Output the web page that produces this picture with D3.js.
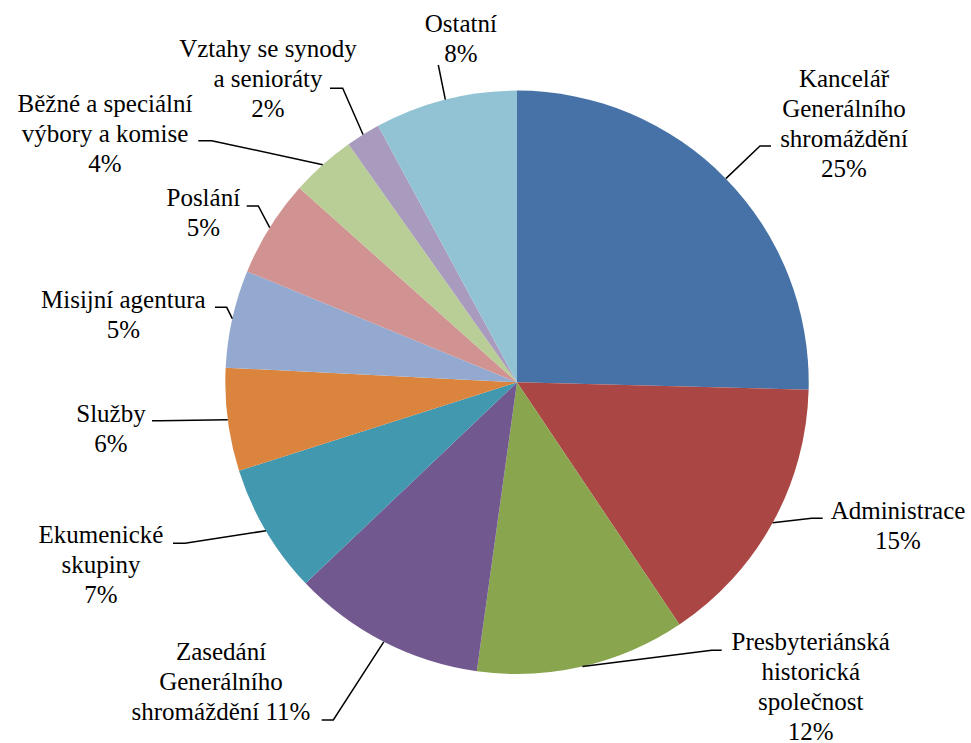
<!DOCTYPE html>
<html>
<head>
<meta charset="utf-8">
<script src="https://d3js.org/d3.v7.min.js"></script>
</head>
<body style="margin:0">
<svg id="chart" width="971" height="743"></svg>
<script>
// data (clockwise from 12 o'clock)
const categories = ["Kancelář Generálního shromáždění", "Administrace", "Presbyteriánská historická společnost",
  "Zasedání Generálního shromáždění", "Ekumenické skupiny", "Služby", "Misijní agentura", "Poslání",
  "Běžné a speciální výbory a komise", "Vztahy se synody a senioráty", "Ostatní"];
const values = [25.4, 15.2, 11.6, 10.7, 7.2, 5.7, 5.4, 5.4, 3.6, 1.9, 7.9];
// how each category name wraps in its label
const labelLines = [
  ["Kancelář", "Generálního", "shromáždění"],
  ["Administrace"],
  ["Presbyteriánská", "historická", "společnost"],
  ["Zasedání", "Generálního", "shromáždění"],
  ["Ekumenické", "skupiny"],
  ["Služby"],
  ["Misijní agentura"],
  ["Poslání"],
  ["Běžné a speciální", "výbory a komise"],
  ["Vztahy se synody", "a senioráty"],
  ["Ostatní"]
];
// percent joined onto the last name line instead of its own line
const pctInline = [false, false, false, true, false, false, false, false, false, false, false];

const colors = ["#4672A8", "#AA4744", "#89A54E", "#71588F", "#4198AF", "#DB843D",
  "#93A9CF", "#D19392", "#B9CD96", "#A99BBD", "#92C3D5"];

// label placement: text centre x, first baseline, elbow of leader, end of leader
const labelPos = [
  { x: 844, y: 86.7, ex: 760, ey: 146, hx: 771 },
  { x: 898, y: 519, ex: 811.7, ey: 518.3, hx: 822.7 },
  { x: 810.7, y: 650, ex: 711.7, ey: 650.3, hx: 721.7 },
  { x: 221, y: 660, ex: 333.3, ey: 720, hx: 321.7 },
  { x: 101, y: 543, ex: 185, ey: 543.3, hx: 173 },
  { x: 111, y: 421.7, ex: 160, ey: 420.7, hx: 152 },
  { x: 123.3, y: 307.7, ex: 226.7, ey: 307.3, hx: 215 },
  { x: 203.3, y: 206, ex: 258.3, ey: 206, hx: 246.7 },
  { x: 105, y: 111.7, ex: 211.7, ey: 140.7, hx: 198.3 },
  { x: 268, y: 57.3, ex: 342.7, ey: 88.3, hx: 330 },
  { x: 460.8, y: 32.3, ex: 438.3, ey: 65, hx: 438.3 }
];

const cx = 517, cy = 382.3, radius = 291.7, lineH = 30;

const svg = d3.select("#chart");
const g = svg.append("g").attr("transform", "translate(" + cx + "," + cy + ")");

const total = d3.sum(values);
const pie = d3.pie().sort(null).value(function (d) { return d; });
const arcs = pie(values);
const arc = d3.arc().innerRadius(0).outerRadius(radius);
const edge = d3.arc().innerRadius(radius).outerRadius(radius);

g.selectAll("path.slice")
  .data(arcs)
  .enter()
  .append("path")
  .attr("class", "slice")
  .attr("d", arc)
  .attr("fill", function (d, i) { return colors[i]; });

// leader lines: slice edge at mid angle -> elbow -> short horizontal
svg.selectAll("path.leader")
  .data(arcs)
  .enter()
  .append("path")
  .attr("class", "leader")
  .attr("fill", "none")
  .attr("stroke", "black")
  .attr("stroke-width", 1.5)
  .attr("d", function (d, i) {
    const c = edge.centroid(d);
    const p = labelPos[i];
    return "M" + (cx + c[0]) + "," + (cy + c[1]) + "L" + p.ex + "," + p.ey + "L" + p.hx + "," + p.ey;
  });

// labels, one text element per line, centred by measuring
const rows = [];
arcs.forEach(function (d, i) {
  const pct = Math.round(values[i] / total * 100) + "%";
  let lines = labelLines[i].slice();
  if (pctInline[i]) lines[lines.length - 1] += " " + pct;
  else lines.push(pct);
  lines.forEach(function (s, k) {
    rows.push({ s: s, x: labelPos[i].x, y: labelPos[i].y + k * lineH });
  });
});

svg.selectAll("text.lbl")
  .data(rows)
  .enter()
  .append("text")
  .attr("class", "lbl")
  .style("font-family", "'Liberation Serif', monospace")
  .style("font-size", "25px")
  .attr("y", function (d) { return d.y; })
  .text(function (d) { return d.s; })
  .attr("x", function (d) { return d.x - this.getComputedTextLength() / 2; });
</script>
</body>
</html>
